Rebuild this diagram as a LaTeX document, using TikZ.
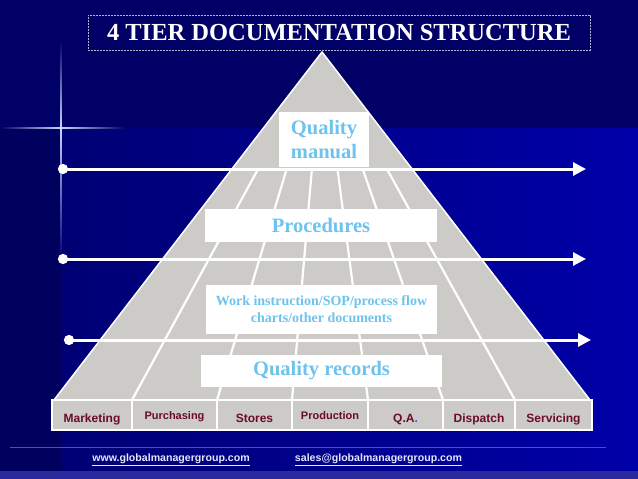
\documentclass[tikz,border=0pt]{standalone}
\usepackage{fontspec}
\setmainfont{Liberation Serif}
\newfontfamily\arialf{Liberation Sans}
\usetikzlibrary{arrows.meta}
\definecolor{navy}{HTML}{000066}
\definecolor{navyd}{HTML}{00005E}
\definecolor{navyl}{HTML}{000074}
\definecolor{navyr}{HTML}{0000A8}
\definecolor{stripc}{HTML}{2A2A9E}
\definecolor{pgray}{HTML}{CDCBC7}
\definecolor{skyt}{HTML}{6EC3EE}
\definecolor{maroonc}{HTML}{6A0A2E}
\definecolor{footc}{HTML}{E6E6FF}
\definecolor{redl}{HTML}{B0305A}
\definecolor{sparkc}{HTML}{C8D8FF}
\begin{document}
\begin{tikzpicture}[x=1pt,y=-1pt,
  flow/.style={white, line width=3pt, {Circle[length=10pt]}-{Triangle[length=13pt,width=13pt]}},
  tierbox/.style={fill=white, inner sep=0pt, align=center, text=skyt, font=\bfseries},
  cell/.style={fill=pgray, draw=white, line width=2pt, inner sep=0pt, minimum height=30pt,
     text=maroonc, font=\arialf\bfseries\fontsize{12}{14}\selectfont, text height=14pt, text depth=0pt},
  foot/.style={text=footc, font=\arialf\bfseries\fontsize{10.6}{12}\selectfont, inner sep=0pt},
  ray/.style={white, line width=2.2pt}
]
\useasboundingbox (0,0) rectangle (638,479);
% background
\fill[navy] (0,0) rectangle (638,479);
\fill[navyd] (0,128) rectangle (61,471);
\shade[left color=navyl, right color=navyr] (61,128) rectangle (638,471);
\fill[stripc] (0,471) rectangle (638,479);
% sparkle
\shade[left color=navy, right color=sparkc] (0,127.2) rectangle (61,128.8);
\shade[left color=sparkc, right color=navy] (61,127.2) rectangle (125,128.8);
\shade[top color=navy, bottom color=sparkc] (60.2,40) rectangle (61.8,128);
\shade[top color=sparkc, bottom color=navyl] (60.2,128) rectangle (61.8,260);
% title
\node[draw=white!70!navy, dashed, dash pattern=on 2pt off 1pt, line width=0.7pt,
      minimum width=502pt, minimum height=35pt, inner sep=0pt, text=white,
      font=\bfseries\fontsize{24.5}{26}\selectfont] (title) at (339,32.5) {4 TIER DOCUMENTATION STRUCTURE};
% pyramid
\coordinate (apex) at (322,52);
\coordinate (bl) at (54,400);
\coordinate (br) at (590,400);
\fill[pgray] (apex) -- (bl) -- (br) -- cycle;
\begin{scope}
  \clip (apex) -- (bl) -- (br) -- cycle;
  \clip (0,169) rectangle (638,400);
  \foreach \x in {132,217,292,368,443,515}
    \draw[ray] (apex) -- (\x,400);
\end{scope}
\draw[white, line width=1.5pt, line join=round] (apex) -- (bl) -- (br) -- cycle;
% department cells
\node[cell, minimum width=80pt] (mkt) at (92,415) {Marketing};
\node[cell, minimum width=85pt] (pur) at (174.5,415) {\fontsize{11}{13}\selectfont\raisebox{3pt}{Purchasing}};
\node[cell, minimum width=75pt] (sto) at (254.5,415) {Stores};
\node[cell, minimum width=76pt] (pro) at (330,415) {\fontsize{11}{13}\selectfont\raisebox{3pt}{Production}};
\node[cell, minimum width=75pt] (qa) at (405.5,415) {Q.A{\color{blue!70!white}.}};
\node[cell, minimum width=72pt] (dis) at (479,415) {Dispatch};
\node[cell, minimum width=77pt] (ser) at (553.5,415) {Servicing};
% tier boxes
\node[tierbox, minimum width=90pt, minimum height=55pt, font=\bfseries\fontsize{20.5}{24}\selectfont] (qm) at (324,139.5) {Quality\\manual};
\node[tierbox, minimum width=232pt, minimum height=33pt, font=\bfseries\fontsize{20.5}{24}\selectfont] (proc) at (321,225.5) {Procedures};
\node[tierbox, minimum width=231pt, minimum height=49pt, font=\bfseries\fontsize{14}{17}\selectfont] (wi) at (321.5,309.5) {Work instruction/SOP/process flow\\charts/other documents};
\node[tierbox, minimum width=241pt, minimum height=32pt, font=\bfseries\fontsize{20.5}{24}\selectfont] (qr) at (321.5,371) {Quality records};
% arrows
\coordinate (a1s) at (58,169); \coordinate (a1e) at (586,169);
\coordinate (a2s) at (58,259); \coordinate (a2e) at (586,259);
\coordinate (a3s) at (64,340); \coordinate (a3e) at (591,340);
\draw[flow] (a1s) -- (a1e);
\draw[flow] (a2s) -- (a2e);
\draw[flow] (a3s) -- (a3e);
% footer
\coordinate (rl1) at (10,447); \coordinate (rl2) at (606,447);
\draw[redl, line width=1pt] (rl1) -- (rl2);
\node[foot] (web) at (171,460) {\underline{www.globalmanagergroup.com}};
\node[foot] (mail) at (378.5,460) {\underline{sales@globalmanagergroup.com}};
\end{tikzpicture}
\end{document}
